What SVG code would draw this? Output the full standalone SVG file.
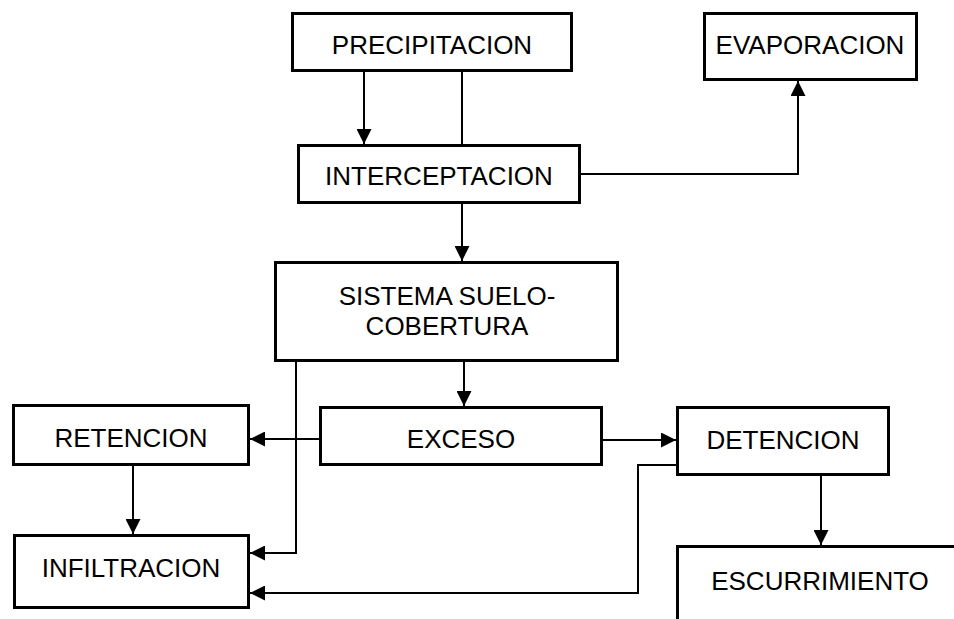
<svg xmlns="http://www.w3.org/2000/svg" width="954" height="619" viewBox="0 0 954 619">
<style>
.box{fill:#fff;stroke:#000;stroke-width:3}
.lbl{font-family:"Liberation Sans",Arial,sans-serif;font-size:26px;text-anchor:middle;fill:#000}
.con{fill:none;stroke:#000;stroke-width:2}
</style>
<defs>
<marker id="ah" markerUnits="userSpaceOnUse" markerWidth="15" markerHeight="15" refX="15" refY="7.5" orient="auto">
<path d="M0,0 L15,7.5 L0,15 z" fill="#000"/>
</marker>
</defs>
<rect width="954" height="619" fill="#fff"/>
<g id="connectors">
<path class="con" d="M364,72 V144" marker-end="url(#ah)"/>
<path class="con" d="M462,72 V144"/>
<path class="con" d="M581,174 H798 V81" marker-end="url(#ah)"/>
<path class="con" d="M462,204 V261" marker-end="url(#ah)"/>
<path class="con" d="M464,362 V406" marker-end="url(#ah)"/>
<path class="con" d="M296,362 V553 H250" marker-end="url(#ah)"/>
<path class="con" d="M319,439 H250" marker-end="url(#ah)"/>
<path class="con" d="M603,440 H676" marker-end="url(#ah)"/>
<path class="con" d="M133,466 V534" marker-end="url(#ah)"/>
<path class="con" d="M676,465 H638 V593 H250" marker-end="url(#ah)"/>
<path class="con" d="M821,476 V545" marker-end="url(#ah)"/>
</g>
<g id="precipitacion">
<rect class="box" x="292.5" y="13.5" width="279" height="57"/>
<text class="lbl" x="432" y="54">PRECIPITACION</text>
</g>
<g id="evaporacion">
<rect class="box" x="704.5" y="13.5" width="212" height="66"/>
<text class="lbl" x="810" y="54">EVAPORACION</text>
</g>
<g id="interceptacion">
<rect class="box" x="298.5" y="145.5" width="281" height="57"/>
<text class="lbl" x="439" y="185">INTERCEPTACION</text>
</g>
<g id="sistema">
<rect class="box" x="275.5" y="262.5" width="342" height="98"/>
<text class="lbl" x="447" y="305">SISTEMA SUELO-</text>
<text class="lbl" x="447" y="335">COBERTURA</text>
</g>
<g id="retencion">
<rect class="box" x="13.5" y="405.5" width="235" height="59"/>
<text class="lbl" x="131" y="447">RETENCION</text>
</g>
<g id="exceso">
<rect class="box" x="320.5" y="407.5" width="281" height="57"/>
<text class="lbl" x="461" y="448">EXCESO</text>
</g>
<g id="detencion">
<rect class="box" x="677.5" y="407.5" width="211" height="67"/>
<text class="lbl" x="783" y="449">DETENCION</text>
</g>
<g id="infiltracion">
<rect class="box" x="14.5" y="535.5" width="234" height="72"/>
<text class="lbl" x="131" y="577">INFILTRACION</text>
</g>
<g id="escurrimiento">
<path d="M677.5,619 V546.5 H956" fill="none" stroke="#000" stroke-width="3"/>
<text class="lbl" x="820" y="590">ESCURRIMIENTO</text>
</g>
</svg>
